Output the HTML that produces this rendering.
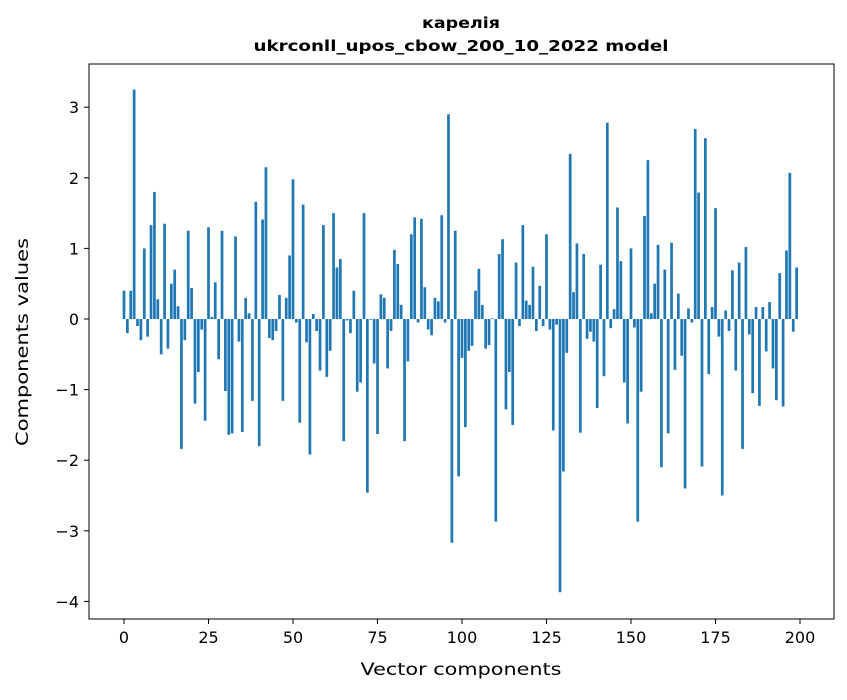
<!DOCTYPE html>
<html><head><meta charset="utf-8"><style>
body{margin:0;background:#fff;font-family:"DejaVu Sans","Liberation Sans",sans-serif}
</style></head><body>
<svg id="chart" width="847" height="696" xmlns="http://www.w3.org/2000/svg" font-family="DejaVu Sans, Liberation Sans, sans-serif">
<text x="461" y="28" text-anchor="middle" font-size="15" font-weight="bold" textLength="78" lengthAdjust="spacingAndGlyphs">карелія</text>
<text x="461" y="51" text-anchor="middle" font-size="15" font-weight="bold" textLength="415" lengthAdjust="spacingAndGlyphs">ukrconll_upos_cbow_200_10_2022 model</text>
<g id="bars"></g>
<rect x="89" y="64" width="745" height="555" fill="none" stroke="#000" stroke-width="1"/>
<g id="xticks"></g>
<g id="yticks"></g>
<text x="461" y="675" text-anchor="middle" font-size="17" textLength="201" lengthAdjust="spacingAndGlyphs">Vector components</text>
<text transform="translate(28,342) rotate(-90)" text-anchor="middle" font-size="17" textLength="208" lengthAdjust="spacingAndGlyphs">Components values</text>
</svg>
<script>
const values = [0.4,-0.2,0.4,3.25,-0.1,-0.3,1.0,-0.25,1.33,1.8,0.28,-0.5,1.35,-0.42,0.5,0.7,0.18,-1.84,-0.3,1.25,0.44,-1.2,-0.75,-0.15,-1.44,1.3,0.03,0.52,-0.57,1.25,-1.02,-1.64,-1.62,1.17,-0.32,-1.6,0.3,0.08,-1.16,1.66,-1.8,1.41,2.15,-0.27,-0.3,-0.17,0.34,-1.16,0.3,0.9,1.98,-0.05,-1.47,1.62,-0.33,-1.92,0.07,-0.17,-0.73,1.33,-0.82,-0.45,1.5,0.73,0.85,-1.73,-0.02,-0.2,0.4,-1.03,-0.9,1.5,-2.46,-0.01,-0.63,-1.63,0.35,0.3,-0.7,-0.17,0.98,0.78,0.2,-1.73,-0.6,1.2,1.44,-0.05,1.42,0.45,-0.15,-0.23,0.3,0.25,1.47,-0.05,2.9,-3.17,1.25,-2.23,-0.55,-1.53,-0.45,-0.38,0.4,0.71,0.2,-0.42,-0.37,0.01,-2.87,0.92,1.13,-1.28,-0.75,-1.5,0.8,-0.1,1.33,0.26,0.2,0.74,-0.17,0.47,-0.1,1.2,-0.15,-1.58,-0.08,-3.87,-2.16,-0.48,2.34,0.38,1.07,-1.61,0.92,-0.28,-0.18,-0.32,-1.26,0.77,-0.81,2.78,-0.13,0.14,1.58,0.82,-0.9,-1.48,1.0,-0.12,-2.87,-1.03,1.46,2.25,0.08,0.5,1.05,-2.1,0.7,-1.62,1.08,-0.72,0.36,-0.52,-2.4,0.15,-0.05,2.69,1.79,-2.09,2.56,-0.78,0.17,1.57,-0.25,-2.5,0.12,-0.17,0.69,-0.73,0.8,-1.84,1.02,-0.22,-1.05,0.17,-1.23,0.17,-0.46,0.24,-0.7,-1.15,0.65,-1.24,0.97,2.07,-0.18,0.73];
const xTickLabels = [0,25,50,75,100,125,150,175,200];
const yTickLabels = [-4,-3,-2,-1,0,1,2,3];
const NS="http://www.w3.org/2000/svg";
function xs(v){return 124 + v*(676/200);}
function ys(v){return 319 - v*70.6;}
const bars=document.getElementById('bars');
values.forEach((v,i)=>{
  const r=document.createElementNS(NS,'rect');
  const x0=xs(i-0.4), x1=xs(i+0.4);
  r.setAttribute('x',x0);r.setAttribute('width',x1-x0);
  r.setAttribute('y',Math.min(ys(v),ys(0)));r.setAttribute('height',Math.abs(ys(v)-ys(0)));
  r.setAttribute('fill','#1f77b4');
  
  
  bars.appendChild(r);
});
const xg=document.getElementById('xticks');
xTickLabels.forEach(t=>{
  const l=document.createElementNS(NS,'line');
  l.setAttribute('x1',xs(t));l.setAttribute('x2',xs(t));l.setAttribute('y1',619);l.setAttribute('y2',624);l.setAttribute('stroke','#000');
  
  
  xg.appendChild(l);
  const tx=document.createElementNS(NS,'text');
  tx.setAttribute('x',xs(t));tx.setAttribute('y',643);tx.setAttribute('text-anchor','middle');tx.setAttribute('font-size','16');
  tx.textContent=t;
  
  
  xg.appendChild(tx);
});
const yg=document.getElementById('yticks');
yTickLabels.forEach(t=>{
  const l=document.createElementNS(NS,'line');
  l.setAttribute('x1',84);l.setAttribute('x2',89);l.setAttribute('y1',ys(t));l.setAttribute('y2',ys(t));l.setAttribute('stroke','#000');
  
  
  yg.appendChild(l);
  const tx=document.createElementNS(NS,'text');
  tx.setAttribute('x',79);tx.setAttribute('y',ys(t)+6);tx.setAttribute('text-anchor','end');tx.setAttribute('font-size','16');
  tx.textContent=t<0?'\u2212'+Math.abs(t):t;
  
  
  yg.appendChild(tx);
});
</script>
</body></html>
